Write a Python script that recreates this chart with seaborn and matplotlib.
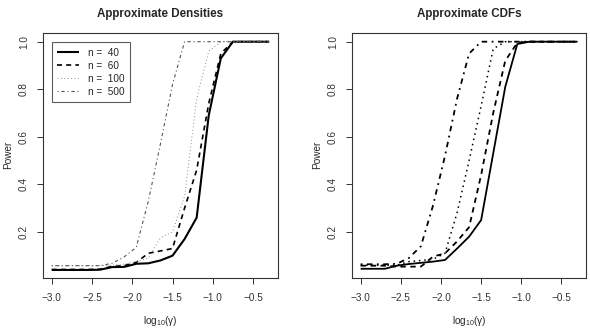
import numpy as np
import pandas as pd
import matplotlib
matplotlib.use('Agg')
import matplotlib.pyplot as plt
import seaborn as sns

# log10(gamma) grid
log_gamma = [-3.0, -2.85, -2.7, -2.55, -2.4, -2.25, -2.1, -1.95, -1.8, -1.65,
             -1.5, -1.35, -1.2, -1.05, -0.9, -0.75, -0.6, -0.45, -0.3]

sample_sizes = [40, 60, 100, 500]

# power curves, approximate densities
dens_n40 = [0.040, 0.040, 0.040, 0.040, 0.041, 0.052, 0.053, 0.066, 0.068, 0.080,
            0.100, 0.170, 0.260, 0.690, 0.930, 1.0, 1.0, 1.0, 1.0]
dens_n60 = [0.042, 0.042, 0.042, 0.042, 0.043, 0.055, 0.058, 0.072, 0.110, 0.120,
            0.130, 0.300, 0.460, 0.740, 0.950, 1.0, 1.0, 1.0, 1.0]
dens_n100 = [0.058, 0.058, 0.058, 0.058, 0.058, 0.060, 0.065, 0.075, 0.090, 0.175,
             0.200, 0.350, 0.760, 0.960, 1.0, 1.0, 1.0, 1.0, 1.0]
dens_n500 = [0.058, 0.058, 0.058, 0.058, 0.058, 0.068, 0.095, 0.135, 0.330, 0.570,
             0.820, 1.0, 1.0, 1.0, 1.0, 1.0, 1.0, 1.0, 1.0]

# power curves, approximate CDFs
cdf_n40 = [0.045, 0.045, 0.045, 0.058, 0.065, 0.070, 0.075, 0.082, 0.130, 0.180,
           0.250, 0.530, 0.810, 0.990, 1.0, 1.0, 1.0, 1.0, 1.0]
cdf_n60 = [0.058, 0.058, 0.058, 0.054, 0.054, 0.054, 0.096, 0.110, 0.160, 0.220,
           0.440, 0.700, 0.920, 0.995, 1.0, 1.0, 1.0, 1.0, 1.0]
cdf_n100 = [0.060, 0.060, 0.060, 0.060, 0.075, 0.080, 0.085, 0.110, 0.280, 0.500,
            0.730, 0.970, 1.0, 1.0, 1.0, 1.0, 1.0, 1.0, 1.0]
cdf_n500 = [0.064, 0.064, 0.064, 0.066, 0.090, 0.140, 0.310, 0.520, 0.760, 0.950,
            1.0, 1.0, 1.0, 1.0, 1.0, 1.0, 1.0, 1.0, 1.0]

x_ticks = [-3.0, -2.5, -2.0, -1.5, -1.0, -0.5]
y_ticks = [0.2, 0.4, 0.6, 0.8, 1.0]

sns.set_style('white')
plt.rcParams['font.family'] = ['Liberation Sans', 'DejaVu Sans']
plt.rcParams['mathtext.fontset'] = 'custom'
plt.rcParams['mathtext.rm'] = 'Liberation Sans'

# R line types: solid, dashed, dotted, dotdash
styles = [(0, ()), (0, (3, 2.5)), (0, (1, 2.5)), (0, (1, 2.5, 3, 2.5))]
left_widths = [1.5, 1.2, 0.7, 0.8]
left_colors = ['black', 'black', '#8a8a8a', '#555555']
right_widths = [1.3, 1.3, 1.1, 1.3]

fig = plt.figure(figsize=(5.9, 3.34), dpi=100)
ax1 = fig.add_axes([0.0729, 0.1686, 0.398, 0.734])
ax2 = fig.add_axes([0.5966, 0.1686, 0.397, 0.734])

panels = [
    (ax1, 'Approximate Densities', [dens_n40, dens_n60, dens_n100, dens_n500], left_widths, left_colors),
    (ax2, 'Approximate CDFs', [cdf_n40, cdf_n60, cdf_n100, cdf_n500], right_widths, ['black'] * 4),
]

for ax, title, series, widths, colors in panels:
    for n, vals, ls, lw, col in zip(sample_sizes, series, styles, widths, colors):
        df = pd.DataFrame({'x': log_gamma, 'power': vals})
        sns.lineplot(data=df, x='x', y='power', ax=ax, color=col, lw=lw,
                     linestyle=ls, label=f'n =  {n}')
    ax.set_xlim(-3.108, -0.192)
    ax.set_ylim(0.0075, 1.0385)
    ax.set_xticks(x_ticks)
    ax.set_xticklabels([f'{t:.1f}'.replace('-', '\u2212') for t in x_ticks])
    ax.set_yticks(y_ticks)
    ax.set_yticklabels([f'{t:.1f}' for t in y_ticks], rotation=90, va='center')
    ax.tick_params(direction='out', length=4, width=0.7, labelsize=7.2,
                   bottom=True, left=True, pad=6, colors='#333333')
    ax.tick_params(axis='x', pad=7)
    for sp in ax.spines.values():
        sp.set_color('#333333')
        sp.set_linewidth(0.8)
    ax.set_xlabel('log$_{10}$(\u03b3)', fontsize=7.2, labelpad=8)
    ax.set_ylabel('Power', fontsize=7.2, labelpad=4)
    ax.set_title(title, fontsize=8.4, fontweight='bold', pad=11)

leg = ax1.legend(loc='upper left', bbox_to_anchor=(0.037, 0.96), borderaxespad=0,
                 fontsize=7.2, frameon=True, fancybox=False, edgecolor='#333333',
                 handlelength=2.2, handletextpad=0.9, labelspacing=0.3,
                 borderpad=0.55)
leg.get_frame().set_linewidth(0.8)
ax2.get_legend().remove()

fig.savefig('out.png', dpi=100)
